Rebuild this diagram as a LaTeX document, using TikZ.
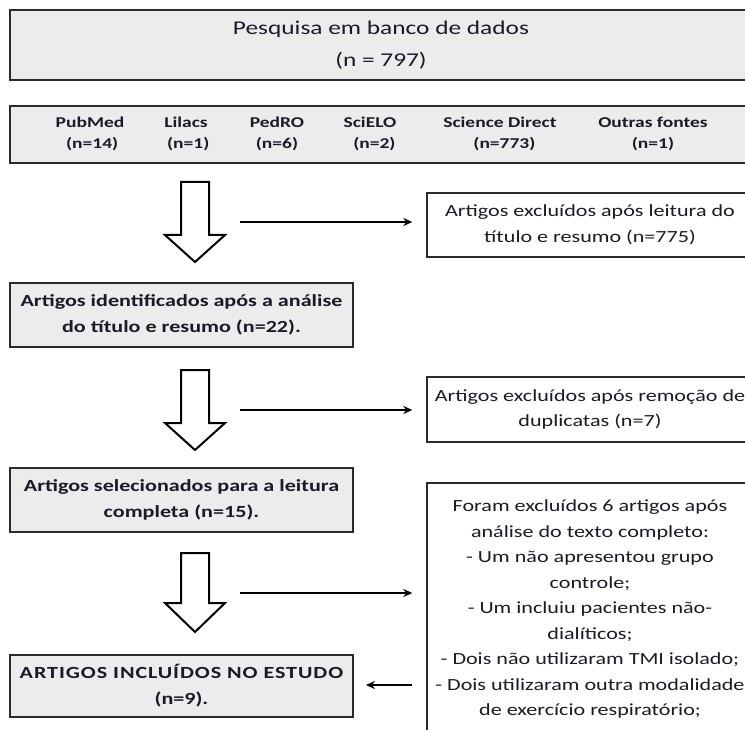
\documentclass[tikz,border=0pt]{standalone}
\usepackage{fontspec}
\setmainfont{Carlito}[FakeStretch=1.3]
\usetikzlibrary{arrows.meta}
\definecolor{boxgray}{HTML}{ECECEC}
\definecolor{lineclr}{HTML}{2B2B2B}
\definecolor{txtclr}{HTML}{1A1A28}
\begin{document}
\begin{tikzpicture}[x=1pt,y=-1pt,
  graybox/.style={draw=lineclr,line width=1.8pt,fill=boxgray,inner sep=0pt,align=center,text=txtclr},
  whitebox/.style={draw=lineclr,line width=1.4pt,fill=white,inner sep=0pt,align=center,text=txtclr},
  srclabel/.style={inner sep=0pt,align=center,text=txtclr,font=\fontsize{15}{21}\selectfont\bfseries},
  blockarrow/.style={draw=black,line width=2pt,fill=white,line join=miter},
  conn/.style={line width=2pt,-{Stealth[length=9pt,width=8pt]}},
  leftfont/.style={font=\fontsize{17}{26}\selectfont\bfseries},
  rightfont/.style={font=\fontsize{17}{25.5}\selectfont}]
\useasboundingbox (0,0) rectangle (745,730);
\clip (0,0) rectangle (745,730);

% top boxes
\node[graybox,minimum width=742pt,minimum height=70pt,font=\fontsize{19.5}{32}\selectfont] (top) at (381,45) {Pesquisa em banco de dados\\(n = 797)};
\node[graybox,minimum width=742pt,minimum height=57pt] (src) at (381,134.5) {};
\node[srclabel] (pub) at (90,134) {PubMed\\\ (n=14)};
\node[srclabel] (lil) at (186,134) {Lilacs\\\ (n=1)};
\node[srclabel] (ped) at (277,134) {PedRO\\(n=6)};
\node[srclabel] (sci) at (370,134) {SciELO\\\ \ (n=2)};
\node[srclabel] (sd) at (500,134) {Science Direct\\\ \ (n=773)};
\node[srclabel] (out) at (653,134) {Outras fontes\\(n=1)};

% left boxes
\node[graybox,leftfont,minimum width=343pt,minimum height=64pt] (lb2) at (181.5,315) {Artigos identificados após a análise\\do título e resumo (n=22).};
\node[graybox,leftfont,minimum width=343pt,minimum height=64pt] (lb3) at (181.5,500) {Artigos selecionados para a leitura\\completa (n=15).};
\node[graybox,leftfont,minimum width=343pt,minimum height=62pt] (lb4) at (181.5,686) {{\addfontfeature{LetterSpace=5.5}ARTIGOS INCLUÍDOS NO ESTUDO}\\(n=9).};

% right boxes
\node[whitebox,rightfont,minimum width=326pt,minimum height=64pt] (rb1) at (590,225) {Artigos excluídos após leitura do\\título e resumo (n=775)};
\node[whitebox,rightfont,minimum width=326pt,minimum height=65pt] (rb2) at (590,409.5) {Artigos excluídos após remoção de\\duplicatas (n=7)};
\node[whitebox,rightfont,minimum width=326pt,minimum height=252pt] (rb3) at (590,609) {Foram excluídos 6 artigos após\\análise do texto completo:\\- Um não apresentou grupo\\controle;\\- Um incluiu pacientes não-\\dialíticos;\\- Dois não utilizaram TMI isolado;\\- Dois utilizaram outra modalidade\\de exercício respiratório;};

% block arrows
\foreach \t/\s/\p [count=\i] in {182/235/262, 370/423/450, 553/603/632}{
  \draw[blockarrow] (181,\t) -- (209,\t) -- (209,\s) -- (225,\s) -- (195,\p) -- (165,\s) -- (181,\s) -- cycle;
}

% connectors
\coordinate (c1) at (240,222);
\coordinate (c2) at (240,410);
\coordinate (c3) at (240,593);
\coordinate (c4) at (412,685);
\draw[conn,shorten >=14pt] (c1) -- (c1 -| rb1.west);
\draw[conn,shorten >=14pt] (c2) -- (c2 -| rb2.west);
\draw[conn,shorten >=14pt] (c3) -- (c3 -| rb3.west);
\draw[conn,shorten >=12pt] (c4) -- (c4 -| lb4.east);
\end{tikzpicture}
\end{document}
